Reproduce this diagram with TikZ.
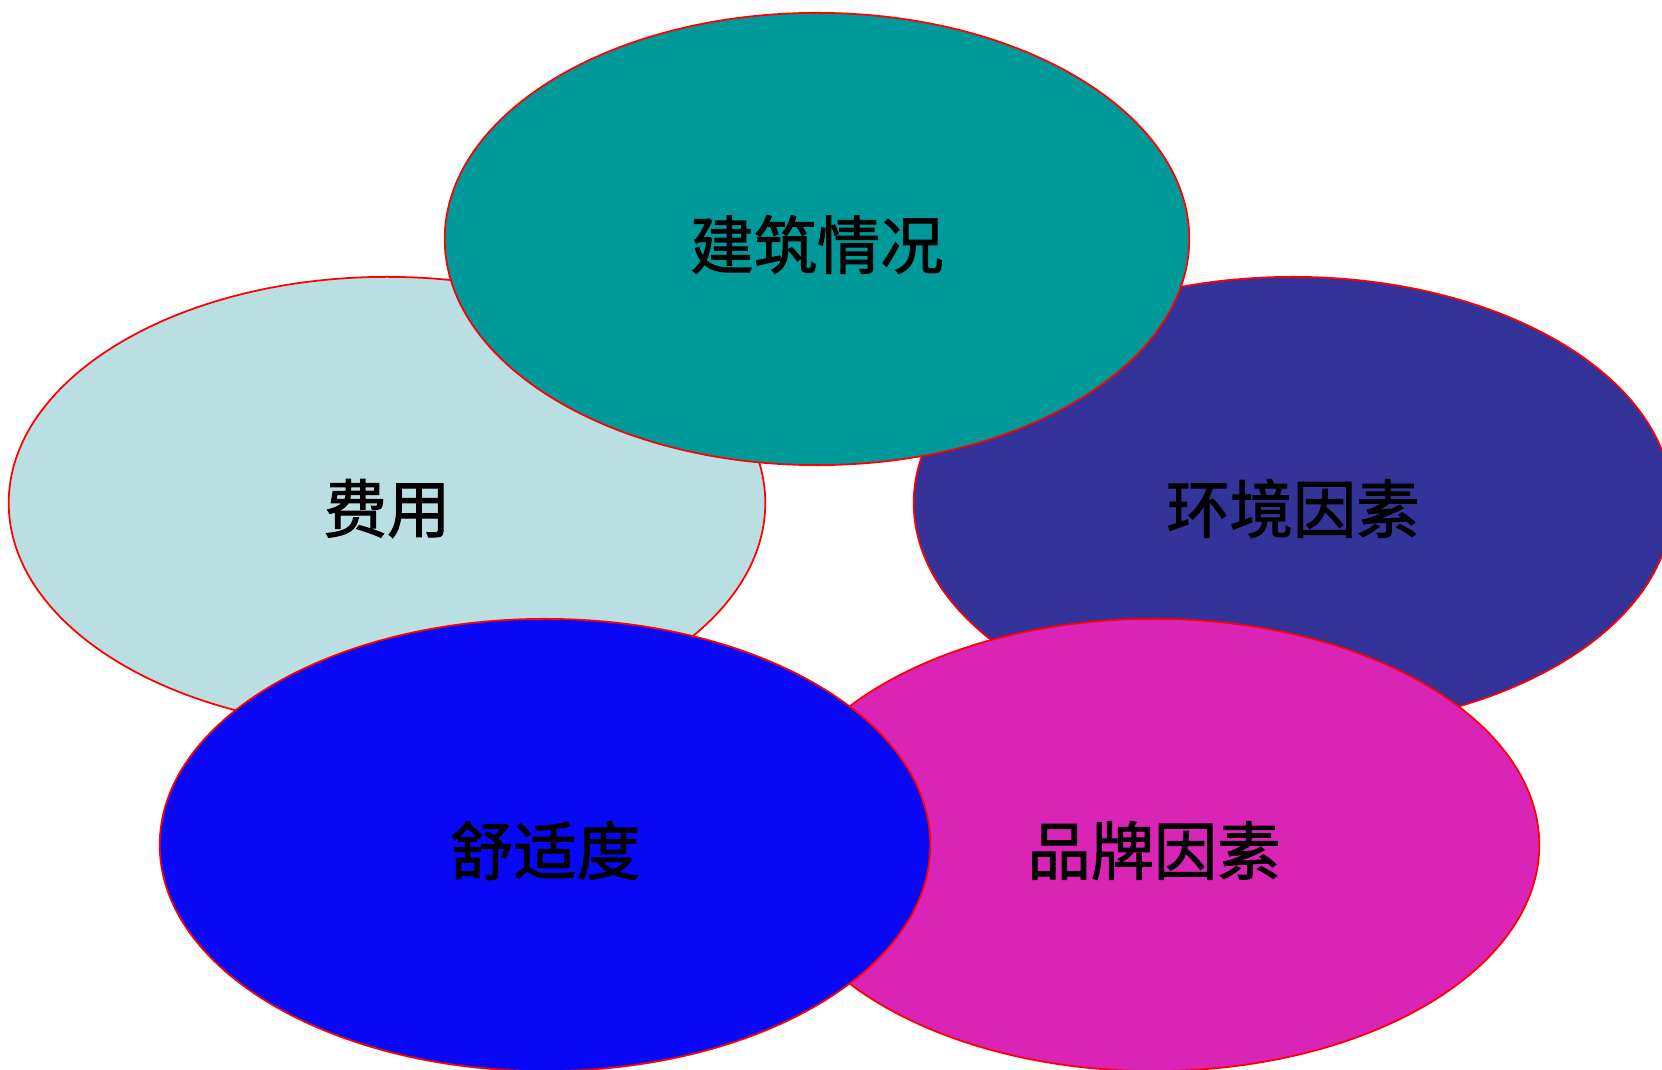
\documentclass[tikz,border=0pt]{standalone}
\usepackage{fontspec}
\newfontfamily\cjk[FakeBold=1.6]{Noto Sans CJK SC}
\usetikzlibrary{shapes.geometric}
\definecolor{costFill}{HTML}{BADFE3}
\definecolor{buildFill}{HTML}{009999}
\definecolor{envFill}{HTML}{333399}
\definecolor{brandFill}{HTML}{D924B5}
\definecolor{comfortFill}{HTML}{0808F6}

\begin{document}
\begin{tikzpicture}
[x=0.01cm,y=-0.01cm,%
  ovalDecorate/.style={shape=ellipse,draw=red,line width=0.5pt,inner sep=0pt,%
    minimum height=4.52cm,font=\cjk\fontsize{18}{20}\selectfont}]
\clip (0,0) rectangle (1662,1070);
%%
%%%%%%%%%%%%%%%%%%%%%%%%%%%%%%%%%%%%%%%%%%%%%%%%%%%%%%%%%%%%%%%%%%%%%%%%%%%
%%
%% factors, back to front
\foreach \nodename/\x/\y/\rx/\col/\txt in {
  cost/387/503/378/costFill/费用,
  env/1293/503/379/envFill/环境因素,
  build/817/239/372/buildFill/建筑情况,
  brand/1154/845/385/brandFill/品牌因素,
  comfort/545/845/385/comfortFill/舒适度}
{
  \node (\nodename) at (\x,\y) [ovalDecorate,fill=\col,minimum width=\rx*0.02cm]
    {\raisebox{-0.055cm}[\height][\depth]{\txt}};
}
\end{tikzpicture}
\end{document}
